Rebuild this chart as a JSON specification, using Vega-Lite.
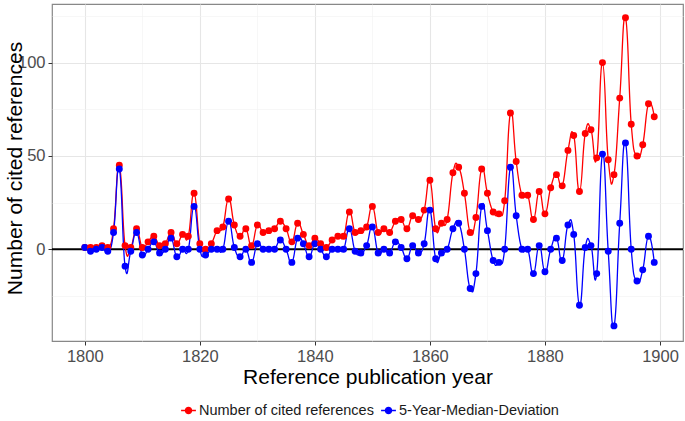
{
  "$schema": "https://vega.github.io/schema/vega-lite/v6.json",
  "width": 631,
  "height": 337,
  "autosize": {"type": "none"},
  "padding": {"left": 52, "top": 4, "right": 2, "bottom": 80},
  "background": "white",
  "config": {
    "font": "Liberation Sans",
    "view": {"stroke": "#888888", "strokeWidth": 1.2},
    "axis": {"domain": false}
  },
  "data": {
    "values": [
      {"year":1800,"n":1,"d":1},{"year":1801,"n":1,"d":-1},{"year":1802,"n":1,"d":0},{"year":1803,"n":2,"d":1},{"year":1804,"n":1,"d":-1},
      {"year":1805,"n":11,"d":9},{"year":1806,"n":45,"d":43},{"year":1807,"n":2,"d":-9},{"year":1808,"n":1,"d":-1},{"year":1809,"n":11,"d":9},
      {"year":1810,"n":1,"d":-3},{"year":1811,"n":4,"d":0},{"year":1812,"n":7,"d":4},{"year":1813,"n":2,"d":-2},{"year":1814,"n":3,"d":0},
      {"year":1815,"n":9,"d":6},{"year":1816,"n":3,"d":-4},{"year":1817,"n":8,"d":0},{"year":1818,"n":7,"d":0},{"year":1819,"n":30,"d":23},
      {"year":1820,"n":3,"d":0},{"year":1821,"n":0,"d":-3},{"year":1822,"n":3,"d":0},{"year":1823,"n":10,"d":0},{"year":1824,"n":12,"d":0},
      {"year":1825,"n":27,"d":15},{"year":1826,"n":13,"d":1},{"year":1827,"n":7,"d":-4},{"year":1828,"n":11,"d":0},{"year":1829,"n":2,"d":-7},
      {"year":1830,"n":13,"d":3},{"year":1831,"n":9,"d":0},{"year":1832,"n":10,"d":0},{"year":1833,"n":11,"d":0},{"year":1834,"n":15,"d":5},
      {"year":1835,"n":11,"d":0},{"year":1836,"n":4,"d":-7},{"year":1837,"n":14,"d":6},{"year":1838,"n":8,"d":3},{"year":1839,"n":2,"d":-4},
      {"year":1840,"n":6,"d":3},{"year":1841,"n":3,"d":0},{"year":1842,"n":1,"d":-4},{"year":1843,"n":5,"d":0},{"year":1844,"n":7,"d":0},
      {"year":1845,"n":7,"d":0},{"year":1846,"n":20,"d":11},{"year":1847,"n":9,"d":-1},{"year":1848,"n":10,"d":-2},{"year":1849,"n":12,"d":2},
      {"year":1850,"n":23,"d":12},{"year":1851,"n":9,"d":-2},{"year":1852,"n":11,"d":0},{"year":1853,"n":9,"d":-2},{"year":1854,"n":15,"d":4},
      {"year":1855,"n":16,"d":1},{"year":1856,"n":11,"d":-5},{"year":1857,"n":18,"d":2},{"year":1858,"n":16,"d":-2},{"year":1859,"n":21,"d":3},
      {"year":1860,"n":37,"d":21},{"year":1861,"n":11,"d":-5},{"year":1862,"n":14,"d":-2},{"year":1863,"n":16,"d":0},{"year":1864,"n":41,"d":11},
      {"year":1865,"n":44,"d":14},{"year":1866,"n":30,"d":0},{"year":1867,"n":9,"d":-21},{"year":1868,"n":17,"d":-13},{"year":1869,"n":43,"d":23},
      {"year":1870,"n":30,"d":10},{"year":1871,"n":20,"d":-6},{"year":1872,"n":19,"d":-7},{"year":1873,"n":26,"d":0},{"year":1874,"n":73,"d":44},
      {"year":1875,"n":47,"d":18},{"year":1876,"n":29,"d":0},{"year":1877,"n":29,"d":0},{"year":1878,"n":16,"d":-13},{"year":1879,"n":31,"d":2},
      {"year":1880,"n":19,"d":-12},{"year":1881,"n":33,"d":0},{"year":1882,"n":40,"d":6},{"year":1883,"n":34,"d":-6},{"year":1884,"n":53,"d":13},
      {"year":1885,"n":61,"d":8},{"year":1886,"n":31,"d":-30},{"year":1887,"n":62,"d":1},{"year":1888,"n":64,"d":2},{"year":1889,"n":49,"d":-13},
      {"year":1890,"n":100,"d":51},{"year":1891,"n":48,"d":-1},{"year":1892,"n":40,"d":-41},{"year":1893,"n":81,"d":14},{"year":1894,"n":124,"d":57},
      {"year":1895,"n":67,"d":0},{"year":1896,"n":50,"d":-17},{"year":1897,"n":56,"d":-11},{"year":1898,"n":78,"d":7},{"year":1899,"n":71,"d":-7}
    ]
  },
  "transform": [
    {"fold": ["n", "d"], "as": ["key", "value"]}
  ],
  "encoding": {
    "x": {
      "field": "year", "type": "quantitative",
      "scale": {"domain": [1794.3, 1904], "nice": false, "zero": false},
      "axis": {
        "values": [1800,1810,1820,1830,1840,1850,1860,1870,1880,1890,1900],
        "labelExpr": "datum.value % 20 === 0 ? datum.label : ''",
        "format": "d",
        "title": "Reference publication year",
        "titleFontSize": 21, "titleFontWeight": "normal", "titleColor": "#000000", "titlePadding": 2,
        "labelFontSize": 16.5, "labelColor": "#4d4d4d", "labelPadding": 3,
        "tickColor": {"condition": {"test": "datum.value % 20 === 0", "value": "#333333"}, "value": "rgba(0,0,0,0)"},
        "tickSize": 4,
        "gridColor": {"condition": {"test": "datum.value % 20 === 0", "value": "#e6e6e6"}, "value": "#f2f2f2"},
        "gridWidth": {"condition": {"test": "datum.value % 20 === 0", "value": 1.1}, "value": 0.6}
      }
    },
    "y": {
      "field": "value", "type": "quantitative",
      "scale": {"domain": [-49.1, 131.4], "nice": false, "zero": false},
      "axis": {
        "values": [-25,0,25,50,75,100,125],
        "labelExpr": "datum.value % 50 === 0 ? datum.label : ''",
        "title": "Number of cited references",
        "titleFontSize": 21, "titleFontWeight": "normal", "titleColor": "#000000",
        "titleX": -27, "titleY": 164, "titleBaseline": "bottom", "titleAngle": 270, "titleAlign": "center",
        "labelFontSize": 16.5, "labelColor": "#4d4d4d", "labelPadding": 3,
        "tickColor": {"condition": {"test": "datum.value % 50 === 0", "value": "#333333"}, "value": "rgba(0,0,0,0)"},
        "tickSize": 4,
        "gridColor": {"condition": {"test": "datum.value % 50 === 0", "value": "#e6e6e6"}, "value": "#f2f2f2"},
        "gridWidth": {"condition": {"test": "datum.value % 50 === 0", "value": 1.1}, "value": 0.6}
      }
    },
    "color": {
      "field": "key", "type": "nominal",
      "scale": {"domain": ["n", "d"], "range": ["#ff0000", "#0000ff"]},
      "legend": {
        "title": null,
        "orient": "none", "direction": "horizontal",
        "legendX": 128, "legendY": 398,
        "labelExpr": "datum.value === 'n' ? 'Number of cited references' : '5-Year-Median-Deviation'",
        "labelFontSize": 14.5, "labelColor": "#1a1a1a", "labelOffset": 2, "labelLimit": 400,
        "columnPadding": 4,
        "symbolType": "M-1,0L1,0M-0.4,0A0.4,0.4 0 1,1 0.4,0A0.4,0.4 0 1,1 -0.4,0Z",
        "symbolSize": 220, "symbolStrokeWidth": 1.5
      }
    }
  },
  "layer": [
    {
      "data": {"values": [{"z": 0}]},
      "transform": [],
      "mark": {"type": "rule", "color": "#000000", "strokeWidth": 2},
      "encoding": {"y": {"field": "z", "type": "quantitative"}, "x": null, "color": null}
    },
    {
      "mark": {"type": "line", "interpolate": "cardinal", "tension": -0.5, "strokeWidth": 1.3}
    },
    {
      "mark": {"type": "point", "filled": true, "size": 48, "opacity": 1}
    }
  ]
}
